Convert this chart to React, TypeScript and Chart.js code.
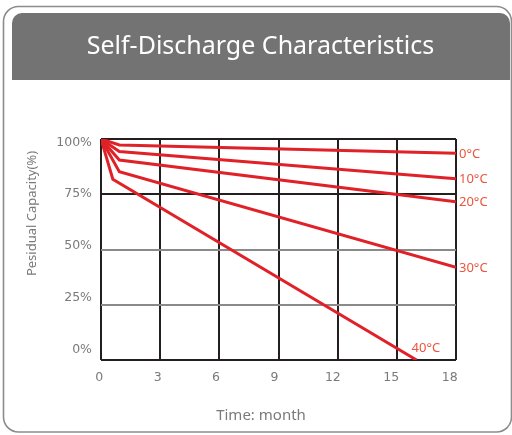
import React, { useEffect, useRef } from 'react';
import { Chart, registerables } from 'chart.js';

Chart.register(...registerables);

const titleText = 'Self-Discharge Characteristics';
const yAxisTitle = 'Pesidual Capacity(%)';
const xAxisTitle = 'Time: month';
const xTicks = [0, 3, 6, 9, 12, 15, 18];
const yTicks = [0, 25, 50, 75, 100];
const seriesLabels = ['0°C', '10°C', '20°C', '30°C', '40°C'];

const monthsA = [0, 0.93, 18];
const months40 = [0, 0.6, 16];
const cap0 = [100, 97.3, 93.5];
const cap10 = [100, 94.3, 82];
const cap20 = [100, 90.5, 71.6];
const cap30 = [100, 85.2, 41.9];
const cap40 = [100, 81.8, 0];

const RED = '#e02128';
const TEMP_COLOR = '#ea563e';
const GRID_DARK = '#231f20';
const GRID_GRAY = '#8a8a8a';
const TICK_COLOR = '#7a7a7a';
const BAR_COLOR = '#737374';

const toPoints = (xs: number[], ys: number[]) => xs.map((x, i) => ({ x, y: ys[i] }));

const framePlugin = {
  id: 'frame',
  beforeDraw(chart: any) {
    const ctx = chart.ctx as CanvasRenderingContext2D;
    ctx.save();
    ctx.fillStyle = '#ffffff';
    ctx.fillRect(0, 0, chart.width, chart.height);
    ctx.strokeStyle = '#8c8c8c';
    ctx.lineWidth = 1.6;
    ctx.beginPath();
    (ctx as any).roundRect(3.5, 6.5, 508, 425.5, 15);
    ctx.stroke();
    ctx.fillStyle = BAR_COLOR;
    ctx.beginPath();
    (ctx as any).roundRect(12, 13, 498, 67, [10, 10, 0, 0]);
    ctx.fill();
    ctx.fillStyle = '#ffffff';
    ctx.font = '25px "Noto Sans"';
    ctx.textAlign = 'center';
    ctx.textBaseline = 'alphabetic';
    ctx.fillText(titleText, 260.5, 54);
    ctx.fillStyle = TICK_COLOR;
    ctx.font = '15px "Noto Sans"';
    ctx.fillText(xAxisTitle, 261, 420);
    ctx.translate(32, 213.5);
    ctx.rotate(-Math.PI / 2);
    ctx.font = '13px "Noto Sans"';
    ctx.textBaseline = 'middle';
    ctx.fillText(yAxisTitle, 0, 0);
    ctx.restore();
  },
};

const labelPlugin = {
  id: 'seriesLabels',
  afterDatasetsDraw(chart: any) {
    const ctx = chart.ctx as CanvasRenderingContext2D;
    ctx.save();
    ctx.fillStyle = TEMP_COLOR;
    ctx.font = '13px "Noto Sans"';
    ctx.textAlign = 'left';
    ctx.textBaseline = 'middle';
    chart.data.datasets.forEach((ds: any, i: number) => {
      const meta = chart.getDatasetMeta(i);
      const pt = meta.data[meta.data.length - 1];
      if (!pt) return;
      const above = pt.y >= chart.chartArea.bottom - 1;
      if (above) ctx.fillText(ds.label, pt.x - 5, pt.y - 12);
      else ctx.fillText(ds.label, pt.x + 3, pt.y + 1);
    });
    ctx.restore();
  },
};

export default function App() {
  const ref = useRef<HTMLCanvasElement | null>(null);

  useEffect(() => {
    if (!ref.current) return;
    const series = [
      toPoints(monthsA, cap0),
      toPoints(monthsA, cap10),
      toPoints(monthsA, cap20),
      toPoints(monthsA, cap30),
      toPoints(months40, cap40),
    ];
    const tickFont = { family: 'DejaVu Sans', size: 12.5 };
    const chart = new Chart(ref.current, {
      type: 'line',
      data: {
        datasets: series.map((d, i) => ({
          label: seriesLabels[i],
          data: d,
          borderColor: RED,
          borderWidth: 3,
          pointRadius: 0,
          fill: false,
          tension: 0,
        })),
      },
      options: {
        responsive: false,
        animation: false,
        devicePixelRatio: 1,
        layout: { padding: { top: 139, right: 56, bottom: 0, left: 0 } },
        plugins: {
          legend: { display: false },
          tooltip: { enabled: false },
          title: { display: false },
        },
        scales: {
          x: {
            type: 'linear',
            position: 'bottom',
            min: 0,
            max: 18,
            afterBuildTicks: (s: any) => { s.ticks = xTicks.map((v) => ({ value: v })); },
            afterFit: (s: any) => { s.height = 0; },
            ticks: { display: false },
            grid: { color: GRID_DARK, lineWidth: 2, drawTicks: false },
            border: { display: false },
          },
          xl: {
            type: 'linear',
            position: 'bottom',
            min: 0.0925,
            max: 18.323,
            afterBuildTicks: (s: any) => { s.ticks = xTicks.map((v) => ({ value: v })); },
            afterFit: (s: any) => { s.height = 75; },
            ticks: { color: TICK_COLOR, font: tickFont, padding: 10, autoSkip: false, maxRotation: 0 },
            grid: { display: false, drawTicks: false },
            border: { display: false },
          },
          y: {
            type: 'linear',
            position: 'left',
            min: 0,
            max: 100,
            afterBuildTicks: (s: any) => { s.ticks = yTicks.map((v) => ({ value: v })); },
            afterFit: (s: any) => { s.width = 0; },
            ticks: { display: false },
            grid: {
              color: (c: any) => (c.tick && (c.tick.value === 25 || c.tick.value === 50) ? GRID_GRAY : GRID_DARK),
              lineWidth: 2,
              drawTicks: false,
            },
            border: { display: false },
          },
          yl: {
            type: 'linear',
            position: 'left',
            min: -4.81,
            max: 101.59,
            afterBuildTicks: (s: any) => { s.ticks = yTicks.map((v) => ({ value: v })); },
            afterFit: (s: any) => { s.width = 101; },
            ticks: { color: TICK_COLOR, font: tickFont, padding: 9, callback: (v: any) => v + '%' },
            grid: { display: false, drawTicks: false },
            border: { display: false },
          },
        },
      } as any,
      plugins: [framePlugin, labelPlugin],
    });
    return () => chart.destroy();
  }, []);

  return (
    <div style={{ position: 'absolute', left: 0, top: 0, width: 512, height: 435 }}>
      <canvas ref={ref} width={512} height={435} />
    </div>
  );
}
